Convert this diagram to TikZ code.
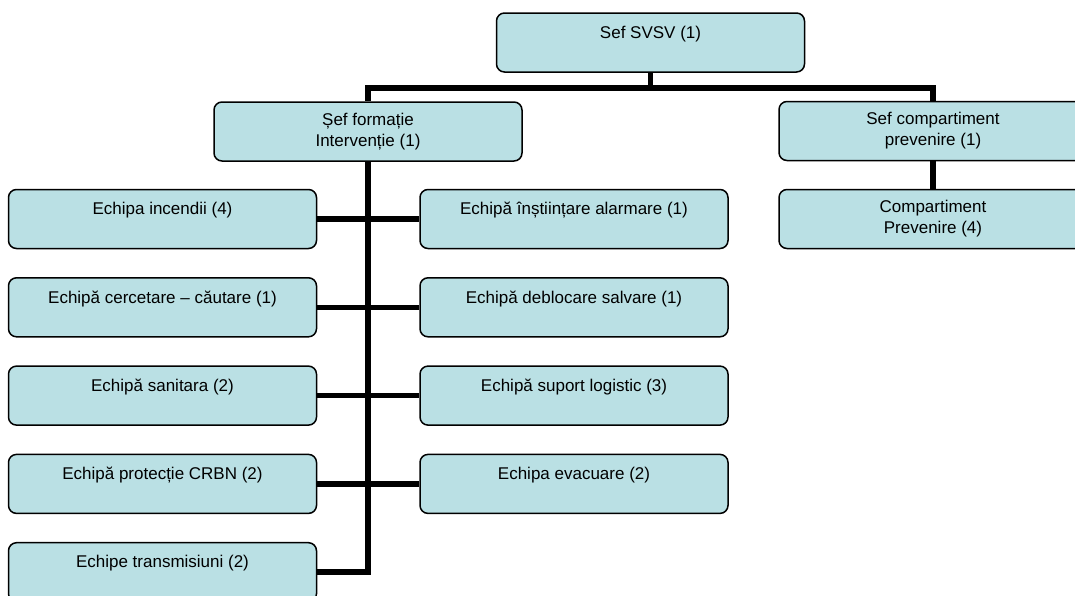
\documentclass[tikz,border=0pt]{standalone}
\usepackage{fontspec}
\setmainfont{Liberation Sans}
\definecolor{boxfill}{RGB}{186,224,228}
\tikzset{
  pxgrid/.style={x=1pt,y=-1pt},
  orgbox/.style={draw, line width=1.5pt, rounded corners=8pt, fill=boxfill,
    minimum width=308pt, minimum height=59pt, inner sep=0pt, align=center,
    font=\fontsize{17}{21}\selectfont},
  link/.style={line width=5.5pt},
}

\begin{document}
\begin{tikzpicture}[pxgrid]
\path[use as bounding box, clip] (0,0) rectangle (1075,595);
% conducere
\node[orgbox] (svsv) at (650.5,42.5) {Sef SVSV (1)\\\mbox{}};
\node[orgbox] (formatie) at (368,131.5) {Șef formație\\Intervenție (1)};
\node[orgbox] (prevsef) at (933,131) {Sef compartiment\\prevenire (1)};
\node[orgbox] (prev) at (933,219) {Compartiment\\Prevenire (4)};
% echipe
\foreach \txt [count=\i] in {Echipa incendii (4), Echipă cercetare – căutare (1),
  Echipă sanitara (2), Echipă protecție CRBN (2), Echipe transmisiuni (2)}
  \node[orgbox] (st\i) at (162.5,{219+88.3*(\i-1)}) {\txt\\\mbox{}};
\foreach \txt [count=\i] in {Echipă înștiințare alarmare (1), Echipă deblocare salvare (1),
  Echipă suport logistic (3), Echipa evacuare (2)}
  \node[orgbox] (dr\i) at (574,{219+88.3*(\i-1)}) {\txt\\\mbox{}};
% legaturi
\draw[link] (svsv.south) -- ++(0,15) -| (formatie.north);
\draw[link] (svsv.south) -- ++(0,15) -| (prevsef.north);
\draw[link] (prevsef) -- (prev);
\draw[link] (formatie.south) |- (st5.east);
\foreach \i in {1,...,4}
  \draw[link] (st\i.east) -- (dr\i.west);
\end{tikzpicture}
\end{document}
